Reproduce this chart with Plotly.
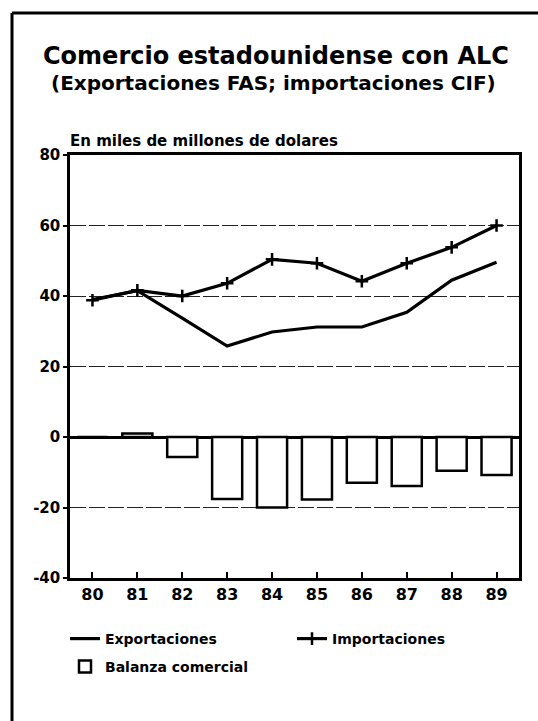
import plotly.graph_objects as go

years = ["80", "81", "82", "83", "84", "85", "86", "87", "88", "89"]
exportaciones = [39, 41.5, 33.7, 25.8, 29.8, 31.2, 31.2, 35.4, 44.5, 49.6]
importaciones = [38.8, 41.6, 40.0, 43.6, 50.4, 49.3, 44.2, 49.3, 53.8, 60.0]
balanza = [0, 1.0, -5.7, -17.6, -20.0, -17.7, -13.0, -13.9, -9.6, -10.8]
y_ticks = [-40, -20, 0, 20, 40, 60, 80]
y_ticktext = ["-40", "-20", "0", "20", "40", "60", "80"]

FONT = "DejaVu Sans"
W, H = 538, 721
L, R, T, B = 70, 519, 155, 578


def px(x):
    return (x - L) / (R - L)


def py(y):
    return (B - y) / (B - T)


fig = go.Figure()

fig.add_trace(go.Bar(
    x=years, y=balanza, name="<b>Balanza comercial</b>",
    marker=dict(color="white", line=dict(color="black", width=2.5)),
    width=0.67, legend="legend3",
))
fig.add_trace(go.Scatter(
    x=years, y=exportaciones, name="<b>Exportaciones</b>", mode="lines",
    line=dict(color="black", width=3.2), legend="legend",
))
fig.add_trace(go.Scatter(
    x=years, y=importaciones, name="<b>Importaciones</b>", mode="lines+markers",
    line=dict(color="black", width=3.2),
    marker=dict(symbol="cross-thin", size=9, line=dict(color="black", width=2.5)),
    legend="legend2",
))

shapes = [
    dict(type="line", xref="paper", yref="paper", x0=px(12), x1=px(12), y0=py(13), y1=py(721),
         line=dict(color="black", width=3)),
    dict(type="line", xref="paper", yref="paper", x0=px(12), x1=px(538), y0=py(13), y1=py(13),
         line=dict(color="black", width=3)),
]

annotations = [
    dict(text="<b>Comercio estadounidense con ALC</b>", xref="paper", yref="paper",
         x=px(276), y=py(56), xanchor="center", yanchor="middle", showarrow=False,
         font=dict(family=FONT, size=24, color="black")),
    dict(text="<b>(Exportaciones FAS; importaciones CIF)</b>", xref="paper", yref="paper",
         x=px(273), y=py(83), xanchor="center", yanchor="middle", showarrow=False,
         font=dict(family=FONT, size=20, color="black")),
    dict(text="<b>En miles de millones de dolares</b>", xref="paper", yref="paper",
         x=px(68), y=py(141), xanchor="left", yanchor="middle", showarrow=False,
         font=dict(family=FONT, size=15, color="black")),
]


def leg(xp, yp):
    return dict(orientation="h", xref="container", yref="container",
                x=xp / W, y=1 - yp / H, xanchor="left", yanchor="middle",
                font=dict(family=FONT, size=14, color="black"),
                bgcolor="rgba(0,0,0,0)", borderwidth=0)


fig.update_layout(
    width=W, height=H,
    margin=dict(l=L, r=W - R, t=T, b=H - B),
    paper_bgcolor="white", plot_bgcolor="white",
    font=dict(family=FONT, color="black"),
    showlegend=True,
    shapes=shapes, annotations=annotations,
    barmode="overlay",
    legend=leg(65, 639),
    legend2=leg(292, 639),
    legend3=leg(65, 667),
    xaxis=dict(
        type="category", range=[-0.5, 9.5],
        showline=True, linecolor="black", linewidth=2.5, mirror=True,
        ticks="inside", ticklen=6, tickwidth=1.5, tickcolor="black",
        tickfont=dict(family=FONT, size=16, color="black"),
        tickprefix="<b>", ticksuffix="</b>",
        showgrid=False, zeroline=False,
    ),
    yaxis=dict(
        range=[-40, 80], tickvals=y_ticks, ticktext=["<b>%s</b>" % t for t in y_ticktext],
        showline=True, linecolor="black", linewidth=2.5, mirror=True,
        ticks="outside", ticklen=4, tickwidth=1.5, tickcolor="black",
        tickfont=dict(family=FONT, size=15, color="black"),
        showgrid=True, gridcolor="#222", gridwidth=1.3, griddash="16px,3px",
        zeroline=True, zerolinecolor="black", zerolinewidth=2.5,
    ),
)

fig.write_html(
    "out.html",
    config={"displayModeBar": False},
    post_script="document.body.style.margin='0';document.body.style.overflow='hidden';",
)
